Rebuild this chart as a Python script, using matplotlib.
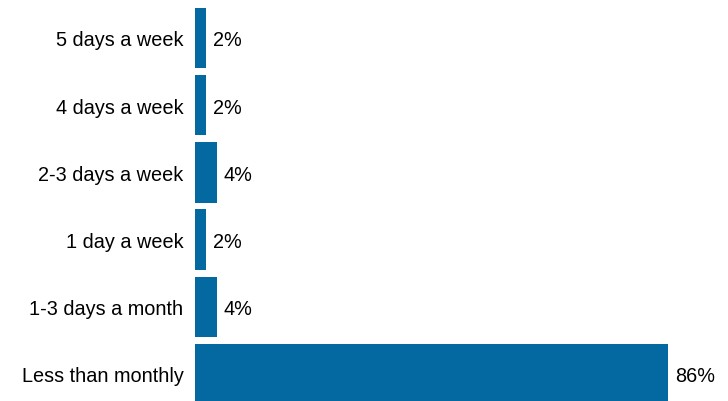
import matplotlib.pyplot as plt
from matplotlib import rcParams

rcParams['font.family'] = ['Liberation Sans', 'DejaVu Sans']

categories = ['5 days a week', '4 days a week', '2-3 days a week',
              '1 day a week', '1-3 days a month', 'Less than monthly']
values = [2, 2, 4, 2, 4, 86]

fig = plt.figure(figsize=(7.28, 4.02), dpi=100)
left = 194.7 / 728
ax = fig.add_axes([left, 0, 1 - left, 1])

y = list(range(len(categories)))
bars = ax.barh(y, values, height=0.9, color='#0569A1')

ax.set_xlim(0, (728 - 194.7) / 5.503)
ax.set_ylim(5.402, -0.58)
ax.set_yticks(y)
ax.set_yticklabels(categories, fontsize=14.3, va='center_baseline')
ax.tick_params(axis='y', length=0, pad=8)
ax.set_xticks([])
for s in ax.spines.values():
    s.set_visible(False)

for bar, v in zip(bars, values):
    ax.annotate(f'{v}%', (bar.get_width(), bar.get_y() + bar.get_height() / 2),
                xytext=(5, 0), textcoords='offset points',
                va='center_baseline', ha='left', fontsize=14.3)

plt.savefig('out.png', dpi=100)
